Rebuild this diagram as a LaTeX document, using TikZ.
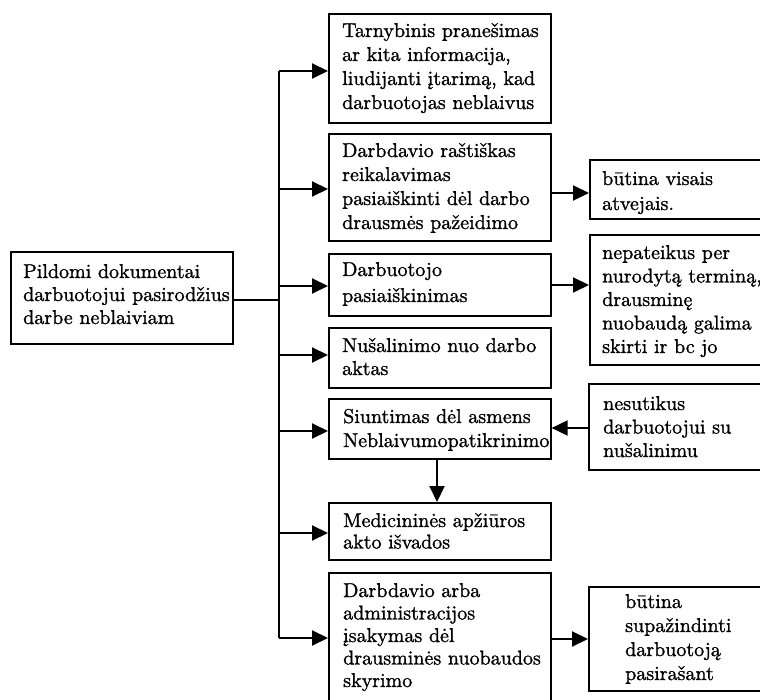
\documentclass[tikz,border=0pt]{standalone}
\usepackage{fontspec}
\setmainfont{lmroman10-regular.otf}[RawFeature={embolden=1.2}]
\usetikzlibrary{arrows.meta}
\tikzset{
  box/.style={draw, line width=1.6pt, inner sep=0pt, anchor=north west},
  txt/.style={anchor=base west, inner sep=0pt, align=left, font=\fontsize{20}{#1}\selectfont},
  txt/.default=23.5,
  arr/.style={line width=2pt, -{Triangle[length=16pt,width=15pt]}},
  ln/.style={line width=2pt}
}
\begin{document}
\begin{tikzpicture}[x=1pt,y=-1pt]
\useasboundingbox (0,0) rectangle (760,700);
\clip (0,0) rectangle (760,700);
% boxes
\node[box, minimum width=222pt, minimum height=92pt]  (L)  at (10,251) {};
\node[box, minimum width=222pt, minimum height=109pt] (B1) at (328,13) {};
\node[box, minimum width=222pt, minimum height=107pt] (B2) at (328,133) {};
\node[box, minimum width=222pt, minimum height=62pt]  (B3) at (328,253) {};
\node[box, minimum width=222pt, minimum height=60pt]  (B4) at (328,327) {};
\node[box, minimum width=222pt, minimum height=60pt]  (B5) at (328,398) {};
\node[box, minimum width=222pt, minimum height=57pt]  (B6) at (328,502) {};
\node[box, minimum width=222pt, minimum height=135pt] (B7) at (328,572) {};
\node[box, minimum width=185pt, minimum height=59pt]  (R1) at (589,159) {};
\node[box, minimum width=185pt, minimum height=130pt] (R2) at (589,234) {};
\node[box, minimum width=185pt, minimum height=86pt]  (R3) at (588,383) {};
\node[box, minimum width=185pt, minimum height=104pt] (R4) at (588,586) {};
% texts (anchored at the baseline of the last line)
\node[txt=23] (Lt) at (23,324) {Pildomi dokumentai\\darbuotojui pasirodžius\\darbe neblaiviam};
\node[txt=24] (B1t) at (342,109) {Tarnybinis pranešimas\\ar kita informacija,\\liudijanti įtarimą, kad\\darbuotojas neblaivus};
\node[txt=24] (B2t) at (342,229) {Darbdavio raštiškas\\reikalavimas\\pasiaiškinti dėl darbo\\drausmės pažeidimo};
\node[txt=26] (B3t) at (342,302) {Darbuotojo\\pasiaiškinimas};
\node[txt=23] (B4t) at (342,375) {Nušalinimo nuo darbo\\aktas};
\node[txt=24] (B5t) at (343,447) {Siuntimas dėl asmens\\Neblaivumopatikrinimo};
\node[txt=21.5] (B6t) at (343,548.5) {Medicininės apžiūros\\akto išvados};
\node[txt=22.5] (B7t) at (343,687) {Darbdavio arba\\administracijos\\įsakymas dėl\\drausminės nuobaudos\\skyrimo};
\node[txt=25] (R1t) at (602,210) {būtina visais\\atvejais.};
\node[txt=23.5] (R2t) at (602,353) {nepateikus per\\nurodytą terminą,\\drausminę\\nuobaudą galima\\skirti ir bc jo};
\node[txt=23.5] (R3t) at (603,457) {nesutikus\\darbuotojui su\\nušalinimu};
\node[txt=24] (R4t) at (625,680) {būtina\\supažindinti\\darbuotoją\\pasirašant};
% trunk
\coordinate (t1) at (279,71);
\coordinate (t2) at (279,189);
\coordinate (t3) at (279,286);
\coordinate (t4) at (279,355);
\coordinate (t5) at (279,431);
\coordinate (t6) at (279,533);
\coordinate (t7) at (279,638);
\coordinate (j)  at (279,300);
\draw[ln] (t1) -- (t7);
\draw[ln] (L.east |- j) -- (j);
\draw[arr] (t1) -- (t1 -| B1.west);
\draw[arr] (t2) -- (t2 -| B2.west);
\draw[arr] (t3) -- (t3 -| B3.west);
\draw[arr] (t4) -- (t4 -| B4.west);
\draw[arr] (t5) -- (t5 -| B5.west);
\draw[arr] (t6) -- (t6 -| B6.west);
\draw[arr] (t7) -- (t7 -| B7.west);
% side arrows
\coordinate (a1) at (570,193);
\coordinate (a2) at (570,285);
\coordinate (a3) at (570,428);
\coordinate (a4) at (570,639);
\coordinate (d)  at (437,480);
\draw[arr] (a1 -| B2.east) -- (a1 -| R1.west);
\draw[arr] (a2 -| B3.east) -- (a2 -| R2.west);
\draw[arr] (a3 -| R3.west) -- (a3 -| B5.east);
\draw[arr] (a4 -| B7.east) -- (a4 -| R4.west);
\draw[arr] (d |- B5.south) -- (d |- B6.north);
\end{tikzpicture}
\end{document}
